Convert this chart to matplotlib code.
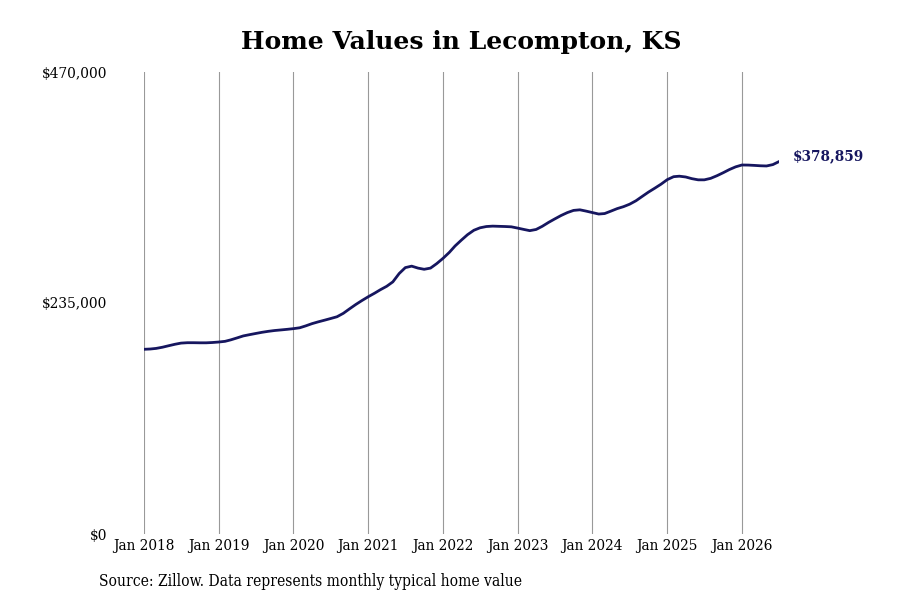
import numpy as np
import pandas as pd
import matplotlib
matplotlib.use("Agg")
import matplotlib.pyplot as plt

# Monthly typical home value, Jan 2018 - Jul 2026 (thousands of $)
values_k = [
    187.9, 188.2, 188.8, 190.0, 191.5, 193.0, 194.2, 194.6, 194.6, 194.5, 194.5, 194.8,   # 2018
    195.3, 196.0, 197.5, 199.5, 201.5, 202.8, 204.0, 205.2, 206.2, 207.0, 207.6, 208.2,   # 2019
    208.9, 209.8, 211.7, 214.0, 215.8, 217.5, 219.2, 221.0, 224.5, 229.0, 233.5, 237.5,   # 2020
    241.4, 245.0, 248.5, 252.0, 256.5, 265.0, 271.0, 272.5, 270.5, 269.3, 270.5, 275.0,   # 2021
    280.4, 286.5, 293.0, 299.0, 304.5, 309.0, 311.5, 312.8, 313.2, 313.0, 312.8, 312.5,   # 2022
    311.2, 309.8, 308.6, 309.8, 313.0, 317.0, 320.5, 324.0, 327.0, 329.2, 329.8, 328.5,   # 2023
    327.0, 325.5, 326.0, 328.5, 331.0, 333.0, 335.5, 339.0, 343.5, 347.8, 351.8, 355.8,   # 2024
    360.5, 363.5, 364.0, 363.2, 361.5, 360.3, 360.3, 361.8, 364.5, 367.5, 370.8, 373.5,   # 2025
    375.4, 375.3, 375.0, 374.6, 374.4, 375.8, 378.859,                                    # 2026
]
dates = pd.date_range("2018-01-01", periods=len(values_k), freq="MS")
values = np.array(values_k) * 1000

tick_years = list(range(2018, 2027))
ytick_vals = [0, 235000, 470000]
ytick_labels = ["$0", "$235,000", "$470,000"]
last_label = "$378,859"

navy = "#16165f"
serif = ["DejaVu Serif"]

fig = plt.figure(figsize=(9, 6), dpi=100)
ax = fig.add_axes([144/900, 1 - 534/600, (779 - 144)/900, (534 - 72)/600])

ax.plot(dates, values, color=navy, lw=2)
ax.set_xlim(dates[0], dates[-1])
ax.set_ylim(0, 470000)

ax.set_xticks([pd.Timestamp(f"{y}-01-01") for y in tick_years])
ax.set_xticklabels([f"Jan {y}" for y in tick_years], family=serif, fontstretch="condensed", fontsize=11)
ax.set_yticks(ytick_vals)
ax.set_yticklabels(ytick_labels, family=serif, fontstretch="condensed", fontsize=11)
ax.tick_params(axis="x", length=0, pad=3.5)
ax.tick_params(axis="y", length=0, pad=26.6)
ax.grid(axis="x", color="#999999", lw=0.8)
ax.set_axisbelow(True)
for s in ax.spines.values():
    s.set_visible(False)

ax.text(dates[-1] + pd.Timedelta(days=66), values[-1] + 5000, last_label,
        color=navy, fontweight="bold", family=serif, fontsize=9.8, va="center", ha="left")

fig.text(461/900, 1 - 42/600, "Home Values in Lecompton, KS", ha="center", va="center",
         family=serif, fontweight="bold", fontsize=18)
fig.text(99/900, 1 - 581/600, "Source: Zillow. Data represents monthly typical home value",
         ha="left", va="center", family=serif, fontstretch="condensed", fontsize=11.2)

fig.savefig("out.png", dpi=100)
